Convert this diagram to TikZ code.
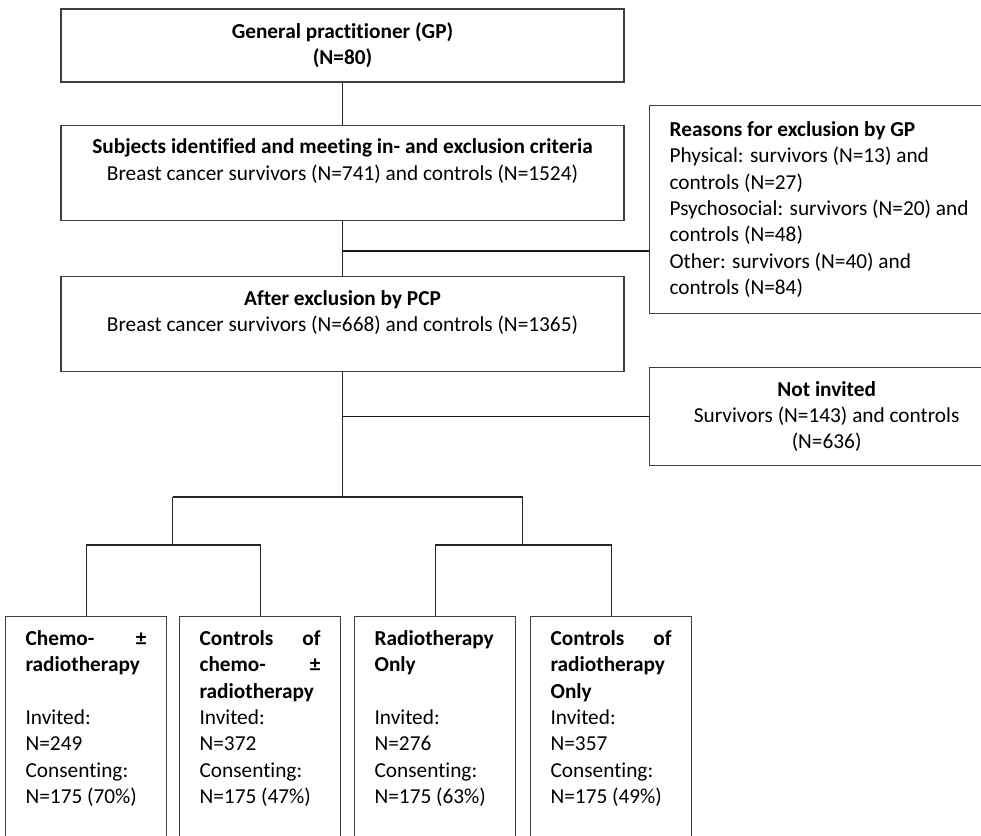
\documentclass[tikz,border=0pt]{standalone}
\usepackage{fontspec}
\setmainfont{Carlito}[Ligatures=NoCommon]
\usepackage{tikz}
\usetikzlibrary{positioning,calc}

\begin{document}
\begin{tikzpicture}[
  x=1pt, y=-1pt,
  font=\fontsize{21.3}{26.3}\selectfont,
  box/.style={draw=black!75, line width=1.2pt, align=center, inner sep=0pt},
  armbox/.style={draw=black!75, line width=1.2pt, anchor=north west, align=flush left,
    text width=121pt, inner xsep=20pt, inner ysep=14pt},
  link/.style={line width=1.1pt, black!85},
  exlink/.style={line width=1.6pt, black!90}
]
\useasboundingbox (0,0) rectangle (981,835);
\clip (0,0) rectangle (981,835);

% main column
\node[box, minimum width=563pt, minimum height=73pt] (gp) at (342.5,45.5)
  {\textbf{General practitioner (GP)}\\\textbf{(N=80)}};
\node[box, minimum width=563pt, minimum height=95pt, below=42pt of gp] (incl)
  {\textbf{Subjects identified and meeting in- and exclusion criteria}\\
   Breast cancer survivors (N=741) and controls (N=1524)\\\mbox{}};
\node[box, minimum width=563pt, minimum height=95pt, below=55pt of incl] (excl)
  {\textbf{After exclusion by PCP}\\
   Breast cancer survivors (N=668) and controls (N=1365)\\\mbox{}};

% side boxes
\node[box, anchor=north west, align=flush left, text width=320pt, inner xsep=20pt,
  minimum height=208pt] (why) at (649,105)
  {\textbf{Reasons for exclusion by GP}\\
   Physical: survivors (N=13) and\\
   controls (N=27)\\
   Psychosocial: survivors (N=20) and\\
   controls (N=48)\\
   Other: survivors (N=40) and\\
   controls (N=84)\\[8pt]};
\node[box, anchor=north west, minimum width=354pt, minimum height=98pt] (notinv) at (649,367)
  {\textbf{Not invited}\\Survivors (N=143) and controls\\(N=636)};

% study groups
\node[armbox] (chemo) at (5,616)
  {\textbf{Chemo-\hfill ±}\\\textbf{radiotherapy}\\\mbox{}\\
   Invited:\\N=249\\Consenting:\\N=175 (70\%)\\\mbox{}\\\mbox{}};
\node[armbox] (chemoctl) at (179,616)
  {\textbf{Controls\hfill of}\\\textbf{chemo-\hfill ±}\\\textbf{radiotherapy}\\
   Invited:\\N=372\\Consenting:\\N=175 (47\%)\\\mbox{}\\\mbox{}};
\node[armbox] (radio) at (354,616)
  {\textbf{Radiotherapy}\\\textbf{Only}\\\mbox{}\\
   Invited:\\N=276\\Consenting:\\N=175 (63\%)\\\mbox{}\\\mbox{}};
\node[armbox] (radioctl) at (530,616)
  {\textbf{Controls\hfill of}\\\textbf{radiotherapy}\\\textbf{Only}\\
   Invited:\\N=357\\Consenting:\\N=175 (49\%)\\\mbox{}\\\mbox{}};

% junctions
\coordinate (cut1) at ($(incl.south)!0.55!(excl.north)$);
\coordinate (split) at (342.5,497);
\coordinate (armL) at (172.5,545);
\coordinate (armR) at (522.5,545);

\draw[link] (gp) -- (incl);
\draw[link] (incl) -- (excl);
\draw[exlink] (cut1) -- (cut1 -| why.west);
\draw[link] (excl) -- (split);
\draw[exlink] (excl.south |- notinv.west) -- (notinv.west);
\draw[link] (armL |- split) -- (armR |- split);
\draw[link] (armL |- split) -- (armL);
\draw[link] (armR |- split) -- (armR);
\draw[link] (chemo.north) |- (armL) -| (chemoctl.north);
\draw[link] (radio.north) |- (armR) -| (radioctl.north);
\end{tikzpicture}
\end{document}
